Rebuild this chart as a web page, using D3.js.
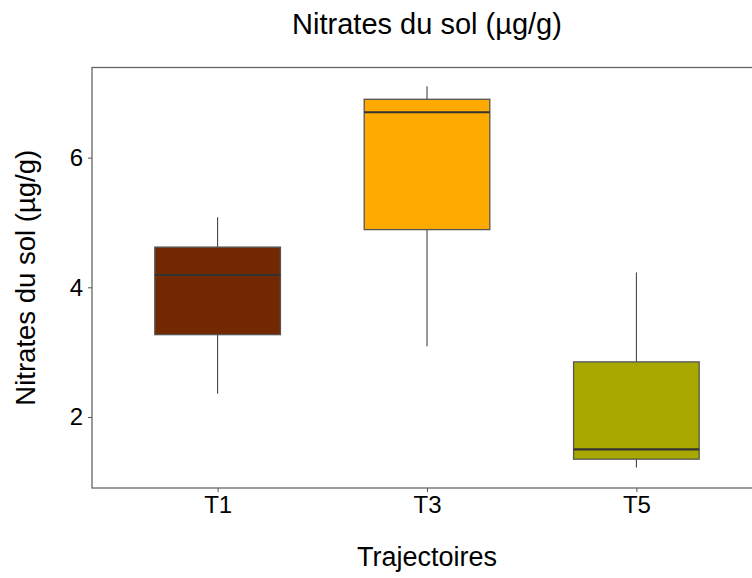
<!DOCTYPE html>
<html>
<head>
<meta charset="utf-8">
<script src="https://cdn.jsdelivr.net/npm/d3@7"></script>
<style>
html,body{margin:0;padding:0;background:#fff;overflow:hidden;}
text{font-family:"Liberation Sans",Arial,sans-serif;}
</style>
</head>
<body>
<svg id="chart" width="752" height="578"></svg>
<script>
const categories = ["T1", "T3", "T5"];
const whiskerLow  = [2.36, 3.09, 1.22];
const q1          = [3.27, 4.89, 1.35];
const median      = [4.19, 6.70, 1.50];
const q3          = [4.62, 6.90, 2.85];
const whiskerHigh = [5.08, 7.10, 4.23];
const fills       = ["#722800", "#FFAA00", "#A8A800"];
const yTicks      = [2, 4, 6];

const svg = d3.select("#chart");
const panel = {left: 92, top: 67.5, right: 762, bottom: 488};

const x = d3.scalePoint().domain(categories).range([panel.left, panel.right]).padding(0.6);
const y = d3.scaleLinear().domain([0.905, 7.39]).range([panel.bottom, panel.top]);
const bw = x.step() * 0.6;

const data = categories.map((c, i) => ({c, lo: whiskerLow[i], q1: q1[i], med: median[i], q3: q3[i], hi: whiskerHigh[i], fill: fills[i]}));

// panel border
svg.append("rect").attr("x", panel.left).attr("y", panel.top)
  .attr("width", panel.right - panel.left).attr("height", panel.bottom - panel.top)
  .attr("fill", "none").attr("stroke", "#666").attr("stroke-width", 1.3);

const g = svg.append("g");
const box = g.selectAll("g.box").data(data).enter().append("g");
box.append("line").attr("x1", d => x(d.c)).attr("x2", d => x(d.c))
  .attr("y1", d => y(d.hi)).attr("y2", d => y(d.q3)).attr("stroke", "#333").attr("stroke-width", 1);
box.append("line").attr("x1", d => x(d.c)).attr("x2", d => x(d.c))
  .attr("y1", d => y(d.q1)).attr("y2", d => y(d.lo)).attr("stroke", "#333").attr("stroke-width", 1);
box.append("rect").attr("x", d => x(d.c) - bw / 2).attr("width", bw)
  .attr("y", d => y(d.q3)).attr("height", d => y(d.q1) - y(d.q3))
  .attr("fill", d => d.fill).attr("stroke", "#555").attr("stroke-width", 1.3);
box.append("line").attr("x1", d => x(d.c) - bw / 2).attr("x2", d => x(d.c) + bw / 2)
  .attr("y1", d => y(d.med)).attr("y2", d => y(d.med)).attr("stroke", "#333").attr("stroke-width", 2.2);

// axes
const yAxis = svg.append("g").attr("transform", `translate(${panel.left},0)`)
  .call(d3.axisLeft(y).tickValues(yTicks).tickSize(4).tickPadding(5).tickFormat(d3.format("d")));
yAxis.select(".domain").remove();
yAxis.selectAll(".tick line").attr("stroke", "#555");
yAxis.selectAll(".tick text").attr("fill", "#000").attr("font-size", 24).attr("font-family", "Liberation Sans, Arial, sans-serif");

const xAxis = svg.append("g").attr("transform", `translate(0,${panel.bottom})`)
  .call(d3.axisBottom(x).tickSize(4).tickPadding(4));
xAxis.select(".domain").remove();
xAxis.selectAll(".tick line").attr("stroke", "#555");
xAxis.selectAll(".tick text").attr("fill", "#000").attr("font-size", 24).attr("font-family", "Liberation Sans, Arial, sans-serif");

const cx = (panel.left + panel.right) / 2;
svg.append("text").attr("x", cx).attr("y", 34).attr("text-anchor", "middle")
  .attr("font-size", 29).attr("fill", "#000").text("Nitrates du sol (µg/g)");
svg.append("text").attr("x", cx).attr("y", 566).attr("text-anchor", "middle")
  .attr("font-size", 27).attr("fill", "#000").text("Trajectoires");
svg.append("text").attr("transform", `translate(35,${(panel.top + panel.bottom) / 2}) rotate(-90)`)
  .attr("text-anchor", "middle").attr("font-size", 27.5).attr("fill", "#000").text("Nitrates du sol (µg/g)");
</script>
</body>
</html>
